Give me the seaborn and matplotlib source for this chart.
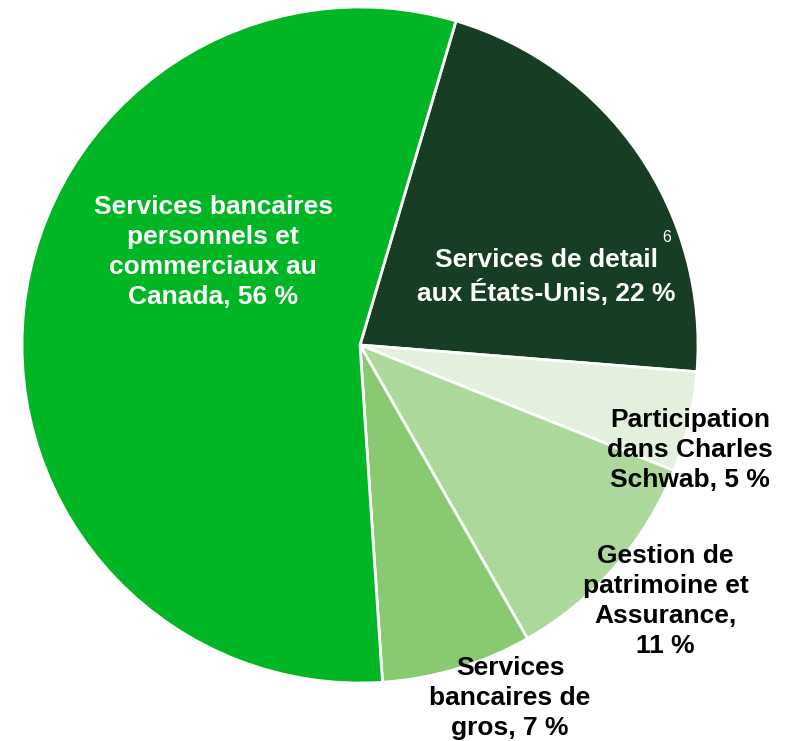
import seaborn as sns
import matplotlib.pyplot as plt

sns.set_style("white")
plt.rcParams['font.family'] = ['Liberation Sans', 'DejaVu Sans']

# Data (clockwise from top)
segments = ['Services de detail\naux États-Unis, 22 %',
            'Participation\ndans Charles\nSchwab, 5 %',
            'Gestion de\npatrimoine et\nAssurance,\n11 %',
            'Services\nbancaires de\ngros, 7 %',
            'Services bancaires\npersonnels et\ncommerciaux au\nCanada, 56 %']
shares = [21.7, 4.8, 10.7, 7.2, 55.7]
colors = ['#173D24', '#E4F0DE', '#ADD89B', '#88C972', '#00B624']
text_colors = ['white', 'black', 'black', 'black', 'white']
label_pos = [(0.695, 0.626), (0.878, 0.393), (0.847, 0.189), (0.649, 0.058), (0.271, 0.660)]

fig = plt.figure(figsize=(7.86, 7.41), dpi=100)
ax = fig.add_axes([0, 0, 1, 1])

# pie centre at (360, 345) px, radius 338 px
r_px = 338
ax.pie(shares, colors=colors, startangle=73.5, counterclock=False,
       wedgeprops={'edgecolor': 'white', 'linewidth': 2})
ax.set_xlim(-360 / r_px, (786 - 360) / r_px)
ax.set_ylim(-(741 - 345) / r_px, 345 / r_px)
ax.set_aspect('auto')
ax.axis('off')

for name, pos, tc in zip(segments, label_pos, text_colors):
    ax.text(pos[0], pos[1], name, transform=ax.transAxes, ha='center', va='center',
            fontsize=19, fontweight='bold', color=tc, linespacing=1.32)

# footnote marker
ax.text(0.848, 0.679, '6', transform=ax.transAxes, ha='center', va='center',
        fontsize=11.5, color='white')

fig.savefig('out.png', dpi=100)
